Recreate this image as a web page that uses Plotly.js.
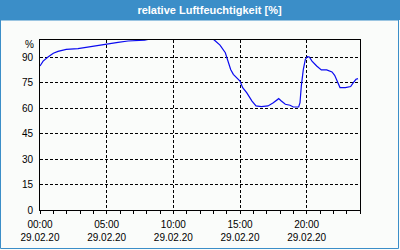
<!DOCTYPE html>
<html>
<head>
<meta charset="utf-8">
<script src="https://cdn.plot.ly/plotly-3.0.1.min.js"></script>
<style>
html,body{margin:0;padding:0;background:#fafcfa;}
#chart{width:400px;height:250px;}
</style>
</head>
<body>
<div id="chart"></div>
<script>
const day = "2020-02-29";
const times = ["00:00","00:14","00:36","01:00","01:21","01:58","02:51","03:36","04:21","05:06","05:51","06:36","07:21","07:51","08:06","09:00","11:00","12:40","12:58","13:08","13:30","13:54","14:06","14:18","14:30","14:45","15:00","15:12","15:30","15:54","16:12","16:36","17:06","17:30","17:54","18:06","18:24","18:45","19:00","19:24","19:30","19:36","19:45","19:54","20:03","20:12","20:24","20:45","21:06","21:30","21:54","22:06","22:18","22:30","22:54","23:18","23:30","23:42","23:51"];
const humidity = [84.7,87.6,90,92.2,93.3,94.5,94.9,95.9,96.9,98,98.6,99.4,99.6,99.9,100.3,101,101,101,100.6,99.6,97,92.5,87.6,82.7,79.8,77.8,75.9,72,69,64.1,61.2,60.8,61.2,63.1,65.5,64.1,62.2,61.6,60.6,60.6,63.1,73,82.7,88.6,90.2,90,87.6,84.7,82.4,82.4,81.2,79.2,75.9,72,72,72.6,74.9,76.9,77.3];
const yTicks = [0,15,30,45,60,75,90];
const titleText = "relative Luftfeuchtigkeit [%]";
const unitLabel = "%";

const x = times.map(t => day + " " + t);
const bg = "#fafcfa";
const frame = "#3b8ec8";
const tickFont = {family: "Liberation Sans, Arial, sans-serif", size: 10, color: "#000"};

// paper coordinates helpers (plot area 40..360 x 40..210 px)
const px = v => (v - 40) / 320;
const py = v => 1 - (v - 40) / 170;

const trace = {
  x: x, y: humidity, type: "scatter", mode: "lines",
  line: {color: "#0a0af0", width: 1.2},
  hoverinfo: "skip"
};

const layout = {
  width: 400, height: 250,
  margin: {l: 40, r: 40, t: 40, b: 40},
  paper_bgcolor: bg, plot_bgcolor: bg,
  showlegend: false,
  title: {text: "<b>" + titleText + "</b>", x: 209.5/400, xref: "container", xanchor: "center",
          y: 1 - 10/250, yref: "container", yanchor: "middle",
          font: {family: "Liberation Sans, Arial, sans-serif", size: 11, color: "#ffffff"}},
  xaxis: {
    type: "date",
    range: [day + " 00:00", "2020-03-01 00:00"],
    tick0: day + " 00:00", dtick: 5*3600*1000,
    tickformat: "%H:%M<br>%d.%m.%y",
    ticks: "outside", ticklen: 3, tickcolor: "#000", tickwidth: 1,
    minor: {dtick: 3600*1000, ticks: "outside", ticklen: 3, tickcolor: "#000", showgrid: false},
    showgrid: true, gridcolor: "#000", griddash: "3px,2px", gridwidth: 1,
    showline: true, mirror: true, linecolor: "#000", linewidth: 1,
    zeroline: false, tickfont: tickFont, ticklabelstandoff: 2, layer: "above traces",
    fixedrange: true
  },
  yaxis: {
    range: [0, 100],
    tickvals: yTicks, ticks: "",
    showgrid: true, gridcolor: "#000", griddash: "3px,2px", gridwidth: 1,
    showline: true, mirror: true, linecolor: "#000", linewidth: 1,
    zeroline: false, tickfont: tickFont, ticklabelstandoff: 4, layer: "above traces",
    fixedrange: true
  },
  shapes: [
    {type: "rect", xref: "paper", yref: "paper", x0: px(0), x1: px(400), y0: py(20), y1: py(0),
     fillcolor: frame, line: {width: 0}, layer: "below"},
    {type: "rect", xref: "paper", yref: "paper", x0: px(0.5), x1: px(398.5), y0: py(248.5), y1: py(20),
     fillcolor: "rgba(0,0,0,0)", line: {color: frame, width: 1}, layer: "below"}
  ],
  annotations: [
    {text: unitLabel, xref: "paper", x: 0, xanchor: "right", xshift: -4, yref: "y", y: 100, yanchor: "middle", yshift: -4,
     showarrow: false, font: tickFont}
  ]
};

Plotly.newPlot("chart", [trace], layout, {staticPlot: true, displayModeBar: false});
</script>
</body>
</html>
